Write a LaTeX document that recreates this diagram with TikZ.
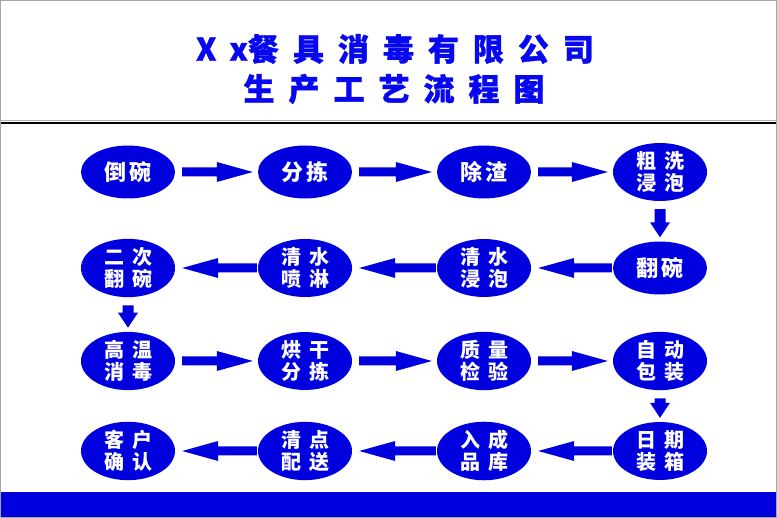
\documentclass[tikz,border=0pt]{standalone}
\usepackage{fontspec}
\newfontfamily\cjk{Noto Sans CJK SC}
\newfontfamily\cjkh{Noto Sans CJK SC}[BoldFeatures={FakeBold=1.2}]
\usetikzlibrary{calc,shapes.geometric}
\definecolor{fc}{RGB}{0,0,222}
\definecolor{tc}{RGB}{8,8,240}
\newcommand\ck{\kern8pt}
\newcommand\sk{\kern4pt}
\newcommand\tk{\kern14pt}
% block arrows between named nodes
\newcommand\rarr[2]{\fill[fc] ($(#1.east)+(7,-4.5)$) -- ($(#2.west)+(-41,-4.5)$) -- ($(#2.west)+(-41,-10)$) -- ($(#2.west)+(-5,0)$) -- ($(#2.west)+(-41,10)$) -- ($(#2.west)+(-41,4.5)$) -- ($(#1.east)+(7,4.5)$) -- cycle;}
\newcommand\larr[2]{\fill[fc] ($(#1.west)+(-1,-4.5)$) -- ($(#2.east)+(43,-4.5)$) -- ($(#2.east)+(43,-10)$) -- ($(#2.east)+(7,0)$) -- ($(#2.east)+(43,10)$) -- ($(#2.east)+(43,4.5)$) -- ($(#1.west)+(-1,4.5)$) -- cycle;}
\newcommand\darr[2]{\fill[fc] ($(#1.south)+(-5.5,8)$) -- ($(#2.north)+(-5.5,-19)$) -- ($(#2.north)+(-10,-19)$) -- ($(#2.north)+(0,-4)$) -- ($(#2.north)+(10,-19)$) -- ($(#2.north)+(5.5,-19)$) -- ($(#1.south)+(5.5,8)$) -- cycle;}
\begin{document}
\begin{tikzpicture}[x=1pt,y=-1pt,
  proc/.style={ellipse, fill=fc, minimum width=94pt, minimum height=53pt, inner sep=0pt,
    text=white, font=\cjk\bfseries\fontsize{20pt}{22pt}\selectfont, align=center},
  proc1/.style={proc, font=\cjk\bfseries\fontsize{22pt}{24pt}\selectfont},
  ttl/.style={text=tc, font=\cjkh\bfseries\fontsize{31pt}{34pt}\selectfont, inner sep=0pt}]
\useasboundingbox (0,0) rectangle (777,518);
\fill[white] (0,0) rectangle (777,518);
% title
\node[ttl] (t1) at (395,49) {X\kern13pt x餐\tk 具\tk 消\tk 毒\tk 有\tk 限\tk 公\tk 司};
\node[ttl] (t2) at (394,89) {生\tk 产\tk 工\tk 艺\tk 流\tk 程\tk 图};
% separator lines
\draw[gray!60, line width=0.8pt] (0,120) -- (777,120);
\draw[black, line width=2.6pt] (0,123) -- (777,123);
% bottom bar
\fill[fc] (0,492) rectangle (777,518);
% frame
\draw[gray!70, line width=1pt] (0.5,0.5) rectangle (776.5,517.5);
% row 1
\node[proc1] (a1) at (128,172) {倒\sk 碗};
\node[proc1] (a2) at (305,172) {分\sk 拣};
\node[proc1] (a3) at (484,172) {除\sk 渣};
\node[proc]  (a4) at (660,172) {粗\ck 洗\\浸\ck 泡};
% row 2
\node[proc1] (b4) at (660,268) {翻\sk 碗};
\node[proc]  (b3) at (484,268) {清\ck 水\\浸\ck 泡};
\node[proc]  (b2) at (305,268) {清\ck 水\\喷\ck 淋};
\node[proc]  (b1) at (128,268) {二\ck 次\\翻\ck 碗};
% row 3
\node[proc] (c1) at (128,361) {高\ck 温\\消\ck 毒};
\node[proc] (c2) at (305,361) {烘\ck 干\\分\ck 拣};
\node[proc] (c3) at (484,361) {质\ck 量\\检\ck 验};
\node[proc] (c4) at (660,361) {自\ck 动\\包\ck 装};
% row 4
\node[proc] (d4) at (660,451) {日\ck 期\\装\ck 箱};
\node[proc] (d3) at (484,451) {入\ck 成\\品\ck 库};
\node[proc] (d2) at (305,451) {清\ck 点\\配\ck 送};
\node[proc] (d1) at (128,451) {客\ck 户\\确\ck 认};
% connectors
\rarr{a1}{a2} \rarr{a2}{a3} \rarr{a3}{a4}
\darr{a4}{b4}
\larr{b4}{b3} \larr{b3}{b2} \larr{b2}{b1}
\darr{b1}{c1}
\rarr{c1}{c2} \rarr{c2}{c3} \rarr{c3}{c4}
\darr{c4}{d4}
\larr{d4}{d3} \larr{d3}{d2} \larr{d2}{d1}
\end{tikzpicture}
\end{document}
